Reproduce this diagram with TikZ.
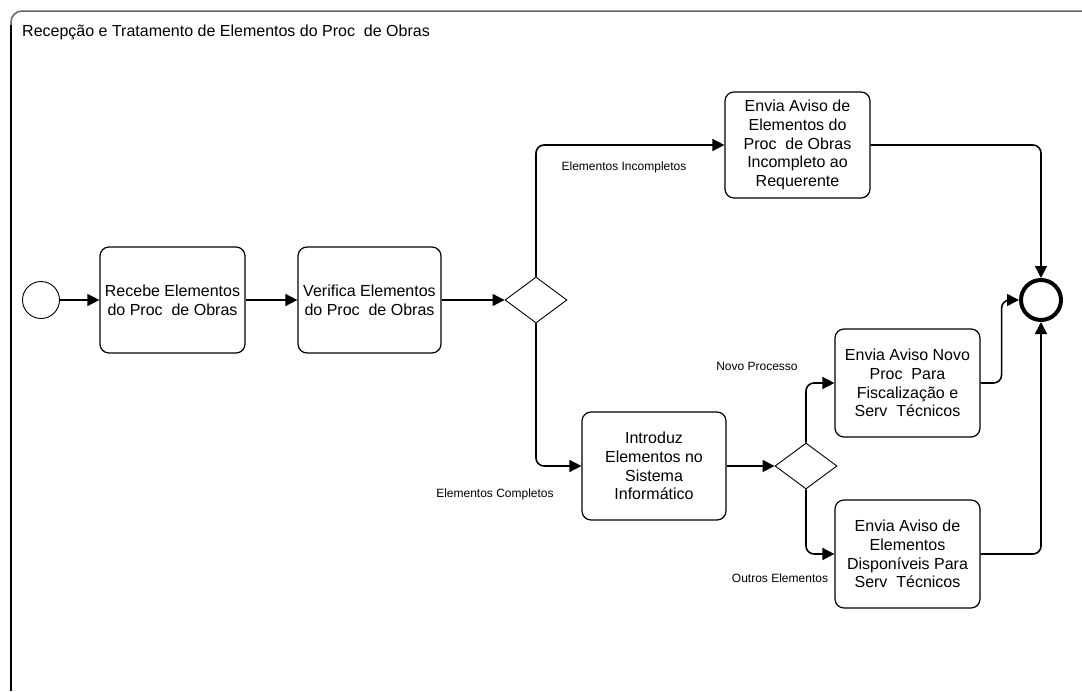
\documentclass[tikz,border=0pt]{standalone}
\usepackage{fontspec}
\setmainfont{Liberation Sans}
\usetikzlibrary{shapes.geometric,arrows.meta}
\begin{document}
\begin{tikzpicture}[x=1pt,y=-1pt,
  task/.style={draw,rounded corners=9pt,line width=1.2pt,align=center,
    font=\fontsize{16}{18.6}\selectfont,inner sep=2pt},
  gate/.style={draw,diamond,line width=0.9pt,minimum width=62pt,minimum height=46pt,inner sep=0pt},
  flow/.style={line width=1.6pt,rounded corners=8pt,-{Triangle[length=12pt,width=12pt]}},
  lbl/.style={font=\fontsize{12}{14}\selectfont,inner sep=0pt}]
\useasboundingbox (0,0) rectangle (1082,691);
% pool frame
\draw[line width=1.5pt,black!60] (11,30) [rounded corners=11pt] -- (11,11) -- (1082,11);
\draw[line width=1.5pt] (11,691) -- (11,25);
\node[anchor=west,font=\fontsize{16}{18}\selectfont,inner sep=0pt] (title) at (22,32)
  {Recepção e Tratamento de Elementos do Proc~~de Obras};

% events
\node[draw,circle,line width=0.9pt,minimum size=37pt,inner sep=0pt] (start) at (41,300) {};
\node[draw,circle,line width=4pt,minimum size=40pt,inner sep=0pt] (end) at (1041,300) {};

% tasks
\node[task,minimum width=145pt,minimum height=106pt] (recebe) at (172.5,300)
  {Recebe Elementos\\do Proc~~de Obras};
\node[task,minimum width=143pt,minimum height=106pt] (verifica) at (369.5,300)
  {Verifica Elementos\\do Proc~~de Obras};
\node[task,minimum width=145pt,minimum height=106pt] (aviso) at (797.5,145)
  {Envia Aviso de\\Elementos do\\Proc~~de Obras\\Incompleto ao\\Requerente};
\node[task,minimum width=144pt,minimum height=108pt] (introduz) at (654,466)
  {Introduz\\Elementos no\\Sistema\\Informático};
\node[task,minimum width=145pt,minimum height=108pt] (novo) at (907.5,383)
  {Envia Aviso Novo\\Proc~~Para\\Fiscalização e\\Serv~~Técnicos};
\node[task,minimum width=145pt,minimum height=108pt] (outros) at (907.5,554)
  {Envia Aviso de\\Elementos\\Disponíveis Para\\Serv~~Técnicos};

% gateways
\node[gate] (g1) at (536,300) {};
\node[gate] (g2) at (806,466) {};

% sequence flows
\draw[flow] (start) -- (recebe);
\draw[flow] (recebe) -- (verifica);
\draw[flow] (verifica) -- (g1);
\draw[flow] (g1.north) |- (aviso.west);
\draw[flow] (g1.south) |- (introduz.west);
\draw[flow] (introduz) -- (g2);
\draw[flow] (g2.north) |- (novo.west);
\draw[flow] (g2.south) |- (outros.west);
\draw[flow] (aviso.east) -| (end.north);
\draw[flow] (novo.east) -- ([xshift=21pt]novo.east) |- (end.west);
\draw[flow] (outros.east) -| (end.south);

% flow labels
\node[lbl] (lInc) at (624,167) {Elementos Incompletos};
\node[lbl] (lComp) at (495,494) {Elementos Completos};
\node[lbl] (lNovo) at (757,366) {Novo Processo};
\node[lbl] (lOut) at (780,578) {Outros Elementos};
\end{tikzpicture}
\end{document}
